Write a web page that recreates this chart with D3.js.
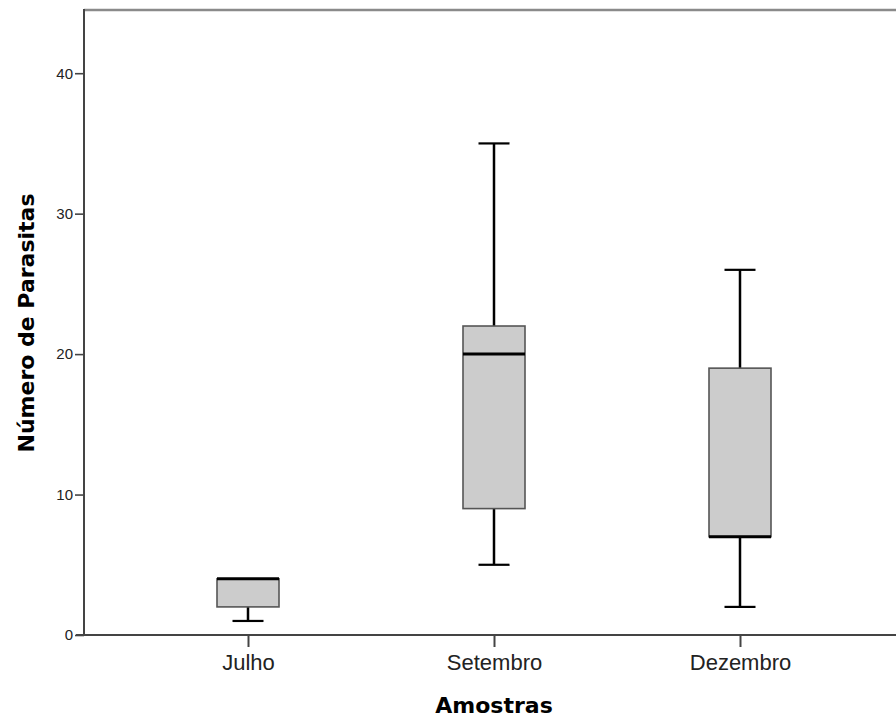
<!DOCTYPE html>
<html>
<head>
<meta charset="utf-8">
<script src="https://cdn.jsdelivr.net/npm/d3@7"></script>
<style>
  html, body { margin: 0; padding: 0; background: #fff; }
  svg { display: block; }
</style>
</head>
<body>
<svg id="chart" width="896" height="720"></svg>
<script>
const categories = ["Julho", "Setembro", "Dezembro"];
const minValues = [1, 5, 2];
const q1Values = [2, 9, 7];
const medianValues = [4, 20, 7];
const q3Values = [4, 22, 19];
const maxValues = [4, 35, 26];
const yTicks = [0, 10, 20, 30, 40];
const xTitle = "Amostras";
const yTitle = "Número de Parasitas";

(function () {
const svg = d3.select("#chart");
const plotLeft = 84, plotRight = 904, plotTop = 10, plotBottom = 635;

const x = d3.scalePoint().domain(categories).range([plotLeft, plotRight]).padding(2 / 3);
const y = d3.scaleLinear().domain([0, 44.5]).range([plotBottom, plotTop]);

const boxW = 62;
const data = categories.map((c, i) => ({
  cat: c, min: minValues[i], q1: q1Values[i], med: medianValues[i], q3: q3Values[i], max: maxValues[i]
}));

// top frame line
svg.append("line")
  .attr("x1", plotLeft).attr("x2", 896)
  .attr("y1", y(44.5)).attr("y2", y(44.5))
  .attr("stroke", "#8a8a8a").attr("stroke-width", 2.5);

// y axis
const yAxis = d3.axisLeft(y).tickValues(yTicks).tickSize(9).tickPadding(2);
const gy = svg.append("g").attr("transform", `translate(${plotLeft},0)`).call(yAxis);
gy.select(".domain").remove();
gy.selectAll(".tick line").attr("stroke", "#444").attr("stroke-width", 1.6);
gy.selectAll(".tick text")
  .attr("font-family", "Liberation Sans, Arial, sans-serif")
  .attr("font-size", 15).attr("fill", "#222");
svg.append("line")
  .attr("x1", plotLeft).attr("x2", plotLeft)
  .attr("y1", y(44.5) - 1).attr("y2", plotBottom)
  .attr("stroke", "#444").attr("stroke-width", 2);

// x axis
const xAxis = d3.axisBottom(x).tickSize(12).tickPadding(7);
const gx = svg.append("g").attr("transform", `translate(0,${plotBottom})`).call(xAxis);
gx.select(".domain").remove();
gx.selectAll(".tick line").attr("stroke", "#444").attr("stroke-width", 2);
gx.selectAll(".tick text")
  .attr("font-family", "Liberation Sans, Arial, sans-serif")
  .attr("font-size", 22).attr("fill", "#222");
svg.append("line")
  .attr("x1", plotLeft - 8).attr("x2", 896)
  .attr("y1", plotBottom).attr("y2", plotBottom)
  .attr("stroke", "#444").attr("stroke-width", 2);

// boxes
const g = svg.append("g");
data.forEach(d => {
  const cx = x(d.cat);
  if (d.max > d.q3) {
    g.append("line").attr("x1", cx).attr("x2", cx).attr("y1", y(d.q3)).attr("y2", y(d.max))
      .attr("stroke", "#000").attr("stroke-width", 2.5);
    g.append("line").attr("x1", cx - boxW / 4).attr("x2", cx + boxW / 4).attr("y1", y(d.max)).attr("y2", y(d.max))
      .attr("stroke", "#000").attr("stroke-width", 2.2);
  }
  if (d.min < d.q1) {
    g.append("line").attr("x1", cx).attr("x2", cx).attr("y1", y(d.q1)).attr("y2", y(d.min))
      .attr("stroke", "#000").attr("stroke-width", 2.5);
    g.append("line").attr("x1", cx - boxW / 4).attr("x2", cx + boxW / 4).attr("y1", y(d.min)).attr("y2", y(d.min))
      .attr("stroke", "#000").attr("stroke-width", 2.2);
  }
  g.append("rect")
    .attr("x", cx - boxW / 2).attr("y", y(d.q3))
    .attr("width", boxW).attr("height", y(d.q1) - y(d.q3))
    .attr("fill", "#cccccc").attr("stroke", "#555").attr("stroke-width", 1.6);
  g.append("line")
    .attr("x1", cx - boxW / 2).attr("x2", cx + boxW / 2)
    .attr("y1", y(d.med)).attr("y2", y(d.med))
    .attr("stroke", "#000").attr("stroke-width", 3);
});

// titles
svg.append("text")
  .attr("x", x("Setembro")).attr("y", 713)
  .attr("text-anchor", "middle")
  .attr("font-family", "DejaVu Sans, Verdana, sans-serif")
  .attr("font-weight", "bold").attr("font-size", 22).attr("fill", "#000")
  .text(xTitle);
svg.append("text")
  .attr("transform", "translate(34,323) rotate(-90)")
  .attr("text-anchor", "middle")
  .attr("font-family", "DejaVu Sans, Verdana, sans-serif")
  .attr("font-weight", "bold").attr("font-size", 22).attr("fill", "#000")
  .text(yTitle);
})();
</script>
</body>
</html>
